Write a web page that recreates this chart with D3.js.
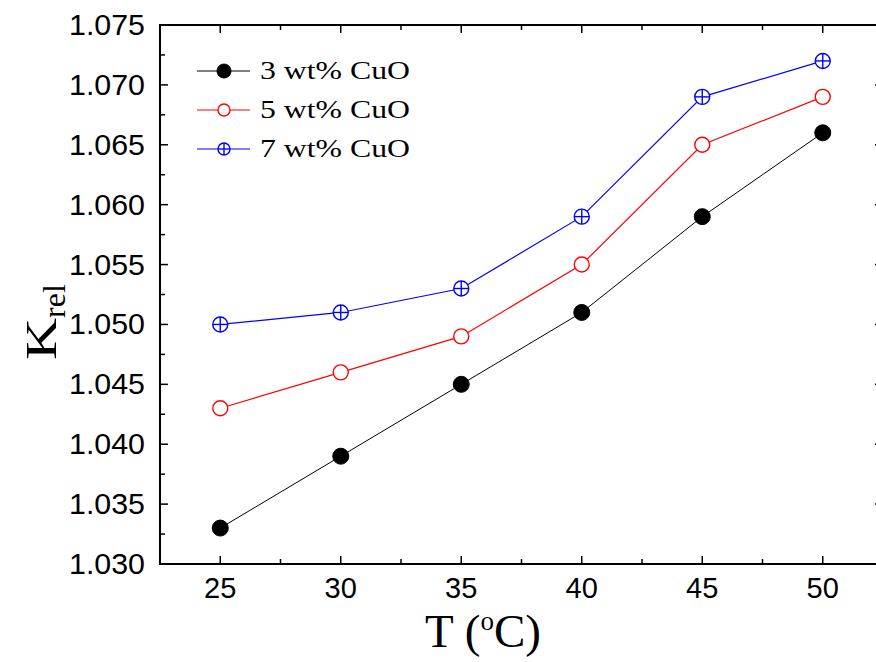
<!DOCTYPE html>
<html>
<head>
<meta charset="utf-8">
<script src="https://cdn.jsdelivr.net/npm/d3@7"></script>
<style>
  body { margin: 0; background: #fff; }
  svg { display: block; }
</style>
</head>
<body>
<svg id="chart" width="876" height="662"></svg>
<script>
// temperatures (°C)
const temps = [25, 30, 35, 40, 45, 50];

// relative thermal conductivity per loading
const cuo3 = [1.033, 1.039, 1.045, 1.051, 1.059, 1.066];
const cuo5 = [1.043, 1.046, 1.049, 1.055, 1.065, 1.069];
const cuo7 = [1.050, 1.051, 1.053, 1.059, 1.069, 1.072];

const seriesNames = ['3 wt% CuO', '5 wt% CuO', '7 wt% CuO'];
const yTicks = [1.030, 1.035, 1.040, 1.045, 1.050, 1.055, 1.060, 1.065, 1.070, 1.075];

const series = [
  { name: seriesNames[0], values: cuo3, color: '#000', marker: 'filled', lw: 1 },
  { name: seriesNames[1], values: cuo5, color: '#ff0000', marker: 'open', lw: 1.2 },
  { name: seriesNames[2], values: cuo7, color: '#0000ff', marker: 'cross', lw: 1.2 },
];

const svg = d3.select('#chart');

const x = d3.scaleLinear().domain([22.5, 52.5]).range([160, 883]);
const y = d3.scaleLinear().domain([1.030, 1.075]).range([564, 25]);

const g = svg.append('g');

const sans = '"Liberation Sans", Arial, sans-serif';
const serif = '"Liberation Serif", "Times New Roman", serif';

// minor tick values
const xMinor = d3.range(22.5, 52.6, 2.5).filter(v => v % 5 !== 0);
const yMinor = d3.range(1.0325, 1.075, 0.005);

// frame
g.append('rect')
  .attr('x', x.range()[0]).attr('y', y.range()[1])
  .attr('width', x.range()[1] - x.range()[0])
  .attr('height', y.range()[0] - y.range()[1])
  .attr('fill', 'none').attr('stroke', '#000').attr('stroke-width', 2);

// inward ticks on all four sides
function ticks(vals, len, horiz) {
  vals.forEach(v => {
    if (horiz) {
      const px = x(v);
      g.append('line').attr('x1', px).attr('x2', px)
        .attr('y1', y.range()[0]).attr('y2', y.range()[0] - len)
        .attr('stroke', '#000').attr('stroke-width', 1.5);
      g.append('line').attr('x1', px).attr('x2', px)
        .attr('y1', y.range()[1]).attr('y2', y.range()[1] + len)
        .attr('stroke', '#000').attr('stroke-width', 1.5);
    } else {
      const py = y(v);
      g.append('line').attr('x1', x.range()[0]).attr('x2', x.range()[0] + len)
        .attr('y1', py).attr('y2', py)
        .attr('stroke', '#000').attr('stroke-width', 1.5);
      g.append('line').attr('x1', x.range()[1]).attr('x2', x.range()[1] - len)
        .attr('y1', py).attr('y2', py)
        .attr('stroke', '#000').attr('stroke-width', 1.5);
    }
  });
}
ticks(temps, 8, true);
ticks(xMinor, 5, true);
ticks(yTicks, 8, false);
ticks(yMinor, 5, false);

// tick labels
g.selectAll('.xlab').data(temps).enter().append('text')
  .attr('x', d => x(d)).attr('y', 598)
  .attr('text-anchor', 'middle')
  .style('font-family', sans)
  .style('font-size', '29px')
  .text(d => d);

g.selectAll('.ylab').data(yTicks).enter().append('text')
  .attr('x', 145).attr('y', d => y(d) + 10)
  .attr('text-anchor', 'end')
  .attr('textLength', 76)
  .attr('lengthAdjust', 'spacingAndGlyphs')
  .style('font-family', sans)
  .style('font-size', '29px')
  .text(d => d3.format('.3f')(d));

// axis titles
const xt = g.append('text')
  .attr('x', 483).attr('y', 647)
  .attr('text-anchor', 'middle')
  .style('font-family', serif)
  .style('font-size', '47px');
xt.append('tspan').text('T (');
xt.append('tspan').attr('dy', -17).style('font-size', '27px').text('o');
xt.append('tspan').attr('dy', 17).text('C)');

const yt = g.append('text')
  .attr('transform', 'translate(56,322) rotate(-90)')
  .attr('text-anchor', 'middle')
  .style('font-family', serif)
  .style('font-size', '44px');
yt.append('tspan').attr('textLength', 42).attr('lengthAdjust', 'spacingAndGlyphs').text('K');
yt.append('tspan').attr('dy', 9).style('font-size', '32px').text('rel');

// marker drawing
function drawMarker(sel, s, r) {
  if (s.marker === 'filled') {
    sel.append('circle').attr('r', r).attr('fill', s.color).attr('stroke', s.color);
  } else if (s.marker === 'open') {
    sel.append('circle').attr('r', r).attr('fill', '#fff')
      .attr('stroke', s.color).attr('stroke-width', 1.4);
  } else {
    sel.append('circle').attr('r', r).attr('fill', '#fff')
      .attr('stroke', s.color).attr('stroke-width', 1.4);
    sel.append('line').attr('x1', -r).attr('x2', r)
      .attr('stroke', s.color).attr('stroke-width', 1.4);
    sel.append('line').attr('y1', -r).attr('y2', r)
      .attr('stroke', s.color).attr('stroke-width', 1.4);
  }
}

const line = d3.line().x(d => x(d[0])).y(d => y(d[1]));

series.forEach(s => {
  const pts = temps.map((t, i) => [t, s.values[i]]);
  g.append('path').datum(pts)
    .attr('d', line)
    .attr('fill', 'none')
    .attr('stroke', s.color)
    .attr('stroke-width', s.lw);
  pts.forEach(p => {
    const m = g.append('g').attr('transform', `translate(${x(p[0])},${y(p[1])})`);
    drawMarker(m, s, s.marker === 'filled' ? 8 : 7.5);
  });
});

// legend
const legend = g.append('g').attr('transform', 'translate(197,71)');
series.forEach((s, i) => {
  const row = legend.append('g').attr('transform', `translate(0,${i * 39})`);
  row.append('line').attr('x1', 0).attr('x2', 53)
    .attr('stroke', s.color).attr('stroke-width', s.lw);
  const m = row.append('g').attr('transform', 'translate(27,0)');
  drawMarker(m, s, s.marker === 'filled' ? 7 : 6);
  row.append('text')
    .attr('x', 63).attr('y', 8)
    .attr('textLength', 150)
    .attr('lengthAdjust', 'spacingAndGlyphs')
    .style('font-family', serif)
    .style('font-size', '25px')
    .text(s.name);
});
</script>
</body>
</html>
